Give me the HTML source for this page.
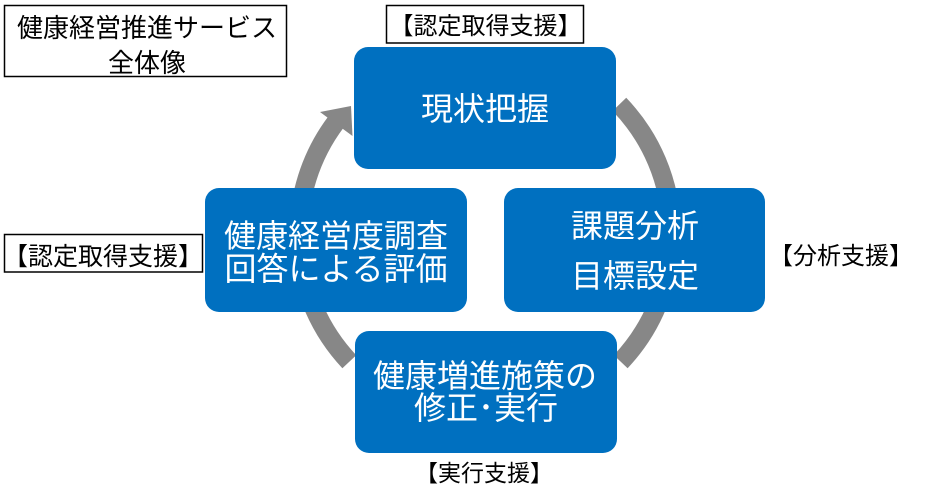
<!DOCTYPE html>
<html><head><meta charset="utf-8"><style>
html,body{margin:0;padding:0;background:#fff;}
svg{display:block;}
text{font-family:"Liberation Sans","Noto Sans CJK JP",sans-serif;}
</style></head><body>
<svg width="940" height="500" viewBox="0 0 940 500" xmlns="http://www.w3.org/2000/svg">
<rect x="0" y="0" width="940" height="500" fill="#fff"/>
<!-- ring arcs -->
<g fill="none" stroke="#878787" stroke-width="19">
<path d="M619.4,104.4 A186.5,186.5 0 0 1 620.7,361.7"/>
<path d="M349.3,361.7 A186.5,186.5 0 0 1 336.1,121.8"/>
</g>
<polygon points="352.5,136 320,112 351,106" fill="#878787"/>
<!-- boxes -->
<g fill="#0070C0">
<rect x="354" y="47" width="262" height="122" rx="14"/>
<rect x="205" y="188" width="262" height="124" rx="14"/>
<rect x="504" y="188" width="261" height="124" rx="14"/>
<rect x="355" y="331" width="262" height="122" rx="14"/>
</g>
<g fill="#fff" font-size="32" text-anchor="middle">
<text x="485" y="120">現状把握</text>
<text x="336" y="247">健康経営度調査</text>
<text x="336" y="280">回答による評価</text>
<text x="635" y="237">課題分析</text>
<text x="635" y="287">目標設定</text>
<text x="485" y="387">健康増進施策の</text>
<text x="486" y="419">修正･実行</text>
</g>
<!-- label boxes -->
<g fill="none" stroke="#000" stroke-width="1.5">
<rect x="4.5" y="5.5" width="282" height="71"/>
<rect x="386.5" y="5.5" width="197" height="37.5"/>
<rect x="4.5" y="234.5" width="198" height="37.5"/>
</g>
<g fill="#000" text-anchor="middle">
<text x="147" y="37" font-size="26">健康経営推進サービス</text>
<text x="147" y="72" font-size="26">全体像</text>
<text x="485.5" y="34" font-size="24">【認定取得支援】</text>
<text x="103" y="265" font-size="25">【認定取得支援】</text>
<text x="841" y="264" font-size="24">【分析支援】</text>
<text x="484" y="481" font-size="23">【実行支援】</text>
</g>
</svg>
</body></html>
